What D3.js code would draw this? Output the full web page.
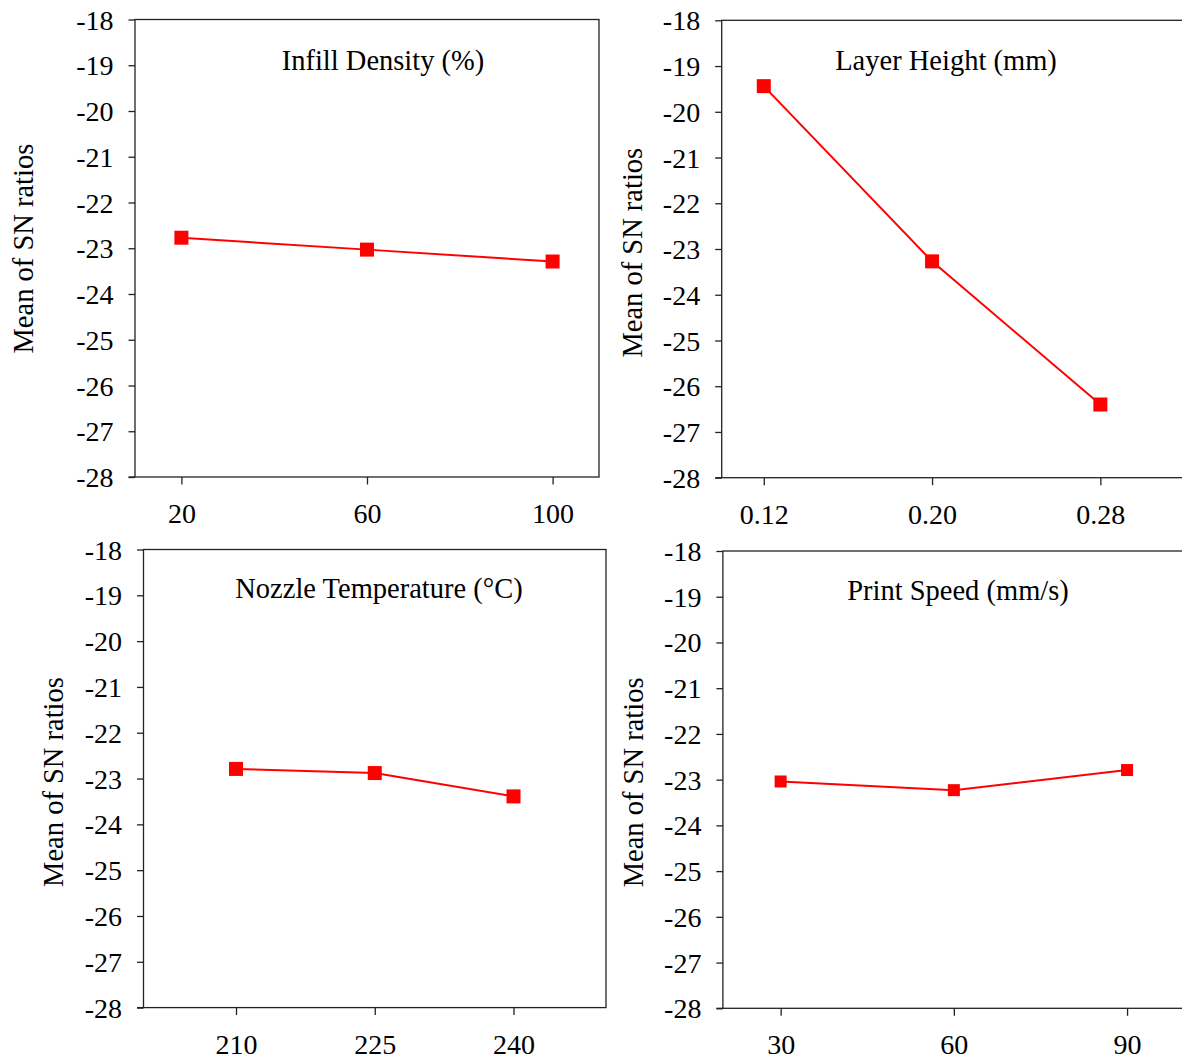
<!DOCTYPE html>
<html>
<head>
<meta charset="utf-8">
<script src="https://cdn.jsdelivr.net/npm/d3@7"></script>
<style>
  html, body { margin: 0; padding: 0; background: #fff; }
  svg { display: block; }
  svg text { font-family: "Liberation Serif", "Times New Roman", serif !important; fill: #000; }
</style>
</head>
<body>
<svg id="chart" width="1182" height="1063"></svg>
<script>
// ---- Data ----
const yTickValues = [-18, -19, -20, -21, -22, -23, -24, -25, -26, -27, -28];
const yLabel = "Mean of SN ratios";

const infillTitle = "Infill Density (%)";
const infillLevels = [20, 60, 100];
const infillSN = [-22.77, -23.03, -23.29];

const layerTitle = "Layer Height (mm)";
const layerLevels = [0.12, 0.20, 0.28];
const layerSN = [-19.44, -23.27, -26.40];

const nozzleTitle = "Nozzle Temperature (°C)";
const nozzleLevels = [210, 225, 240];
const nozzleSN = [-22.79, -22.88, -23.39];

const speedTitle = "Print Speed (mm/s)";
const speedLevels = [30, 60, 90];
const speedSN = [-23.04, -23.23, -22.79];

// ---- Layout (pixels) ----
const intFmt = d => String(d);
const twoDec = d => d.toFixed(2);
const panels = [
  { title: infillTitle, levels: infillLevels, values: infillSN, fmt: intFmt,
    xDomain: [10, 110], left: 135, right: 599, top: 19.5, bottom: 477,
    titleX: 383, titleY: 70, labelX: 33, labelY: 248.6, marker: 14 },
  { title: layerTitle, levels: layerLevels, values: layerSN, fmt: twoDec,
    xDomain: [0.10, 0.32], left: 721.7, right: 1184.5, top: 20.3, bottom: 477.7,
    titleX: 946, titleY: 70, labelX: 641.5, labelY: 252.7, marker: 14 },
  { title: nozzleTitle, levels: nozzleLevels, values: nozzleSN, fmt: intFmt,
    xDomain: [200, 250], left: 143.5, right: 606, top: 549.5, bottom: 1007.6,
    titleX: 379, titleY: 598, labelX: 62.5, labelY: 782, marker: 14 },
  { title: speedTitle, levels: speedLevels, values: speedSN, fmt: intFmt,
    xDomain: [20, 100], left: 722.9, right: 1184.8, top: 551, bottom: 1008.3,
    titleX: 958, titleY: 600, labelX: 642.5, labelY: 782.4, marker: 12 }
];

const svg = d3.select("#chart");
const SERIF = "Liberation Serif, Times New Roman, serif";
const FONT = 28;
const TITLE_FONT = 28.5;
const axisColor = "#222";

panels.forEach(p => {
  const x = d3.scaleLinear().domain(p.xDomain).range([p.left, p.right]);
  const y = d3.scaleLinear().domain([-28, -18]).range([p.bottom, p.top]);
  const g = svg.append("g");

  // frame
  g.append("rect")
    .attr("x", p.left).attr("y", p.top)
    .attr("width", p.right - p.left).attr("height", p.bottom - p.top)
    .attr("fill", "none").attr("stroke", axisColor).attr("stroke-width", 1.3);

  // y axis
  const ya = g.append("g")
    .attr("transform", `translate(${p.left},0)`)
    .call(d3.axisLeft(y).tickValues(yTickValues).tickSize(6.5).tickPadding(15).tickFormat(intFmt));
  ya.attr("font-family", SERIF).attr("font-size", FONT);
  ya.select(".domain").remove();
  ya.selectAll(".tick line").attr("stroke", axisColor).attr("stroke-width", 1.3);
  ya.selectAll(".tick text")
    .attr("font-family", SERIF).attr("font-size", FONT).attr("fill", "#000")
    .attr("dy", "0.34em");

  // x axis
  const xa = g.append("g")
    .attr("transform", `translate(0,${p.bottom})`)
    .call(d3.axisBottom(x).tickValues(p.levels).tickSize(7.5).tickPadding(0).tickFormat(p.fmt));
  xa.attr("font-family", SERIF).attr("font-size", FONT);
  xa.select(".domain").remove();
  xa.selectAll(".tick line").attr("stroke", axisColor).attr("stroke-width", 1.3);
  xa.selectAll(".tick text")
    .attr("font-family", SERIF).attr("font-size", FONT).attr("fill", "#000")
    .attr("y", 46).attr("dy", 0);

  // extend the bottom line left by the tick length
  g.append("line")
    .attr("x1", p.left - 6.5).attr("x2", p.left)
    .attr("y1", p.bottom).attr("y2", p.bottom)
    .attr("stroke", axisColor).attr("stroke-width", 1.3);

  // title
  g.append("text")
    .attr("x", p.titleX).attr("y", p.titleY)
    .attr("text-anchor", "middle")
    .attr("font-family", SERIF).attr("font-size", TITLE_FONT)
    .text(p.title);

  // y label
  g.append("text")
    .attr("transform", `translate(${p.labelX},${p.labelY}) rotate(-90)`)
    .attr("text-anchor", "middle")
    .attr("font-family", SERIF).attr("font-size", TITLE_FONT)
    .text(yLabel);

  // data
  const pts = p.levels.map((l, i) => ({ x: l, y: p.values[i] }));
  const line = d3.line().x(d => x(d.x)).y(d => y(d.y));
  g.append("path").datum(pts)
    .attr("d", line)
    .attr("fill", "none").attr("stroke", "#ff0000").attr("stroke-width", 2);
  g.selectAll("rect.marker").data(pts).enter().append("rect")
    .attr("class", "marker")
    .attr("x", d => x(d.x) - p.marker / 2).attr("y", d => y(d.y) - p.marker / 2)
    .attr("width", p.marker).attr("height", p.marker)
    .attr("fill", "#ff0000");
});
</script>
</body>
</html>
